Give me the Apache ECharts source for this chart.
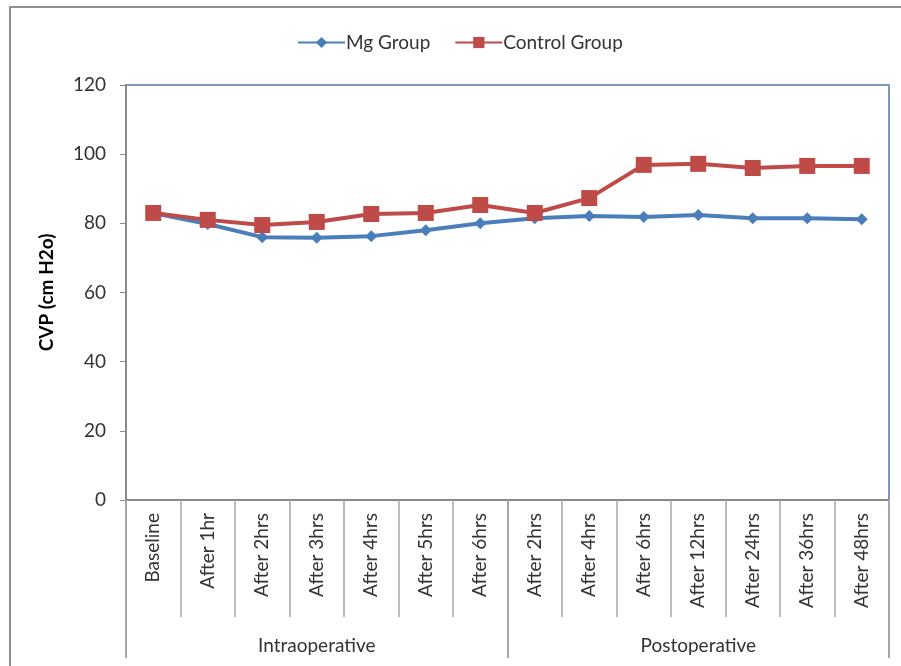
<!DOCTYPE html>
<html>
<head>
<meta charset="utf-8">
<title>CVP</title>
<script src="https://cdn.jsdelivr.net/npm/echarts@6/dist/echarts.min.js"></script>
<style>
    html, body { margin: 0; padding: 0; background: #fff; }
    #chart { width: 901px; height: 666px; }
</style>
</head>
<body>
<div id="chart"></div>
<script>
// time points (x axis, first level)
var categories = ['Baseline', 'After 1hr', 'After 2hrs', 'After 3hrs', 'After 4hrs', 'After 5hrs', 'After 6hrs',
    'After 2hrs', 'After 4hrs', 'After 6hrs', 'After 12hrs', 'After 24hrs', 'After 36hrs', 'After 48hrs'];
// second level of the x axis
var phases = ['Intraoperative', 'Postoperative'];

var mgGroup = [83, 79.8, 76, 75.8, 76.3, 78, 80, 81.5, 82.1, 81.8, 82.4, 81.5, 81.5, 81.2];
var controlGroup = [83, 81, 79.5, 80.4, 82.7, 83, 85.3, 83, 87.3, 96.9, 97.2, 96, 96.6, 96.6];

var yTicks = { min: 0, max: 120, interval: 20 };

var FONT = 'Lato, "Open Sans", sans-serif';

var myChart = echarts.init(document.getElementById('chart'));

var option = {
    backgroundColor: '#fff',
    animation: false,
    graphic: [{
        type: 'rect',
        shape: { x: 10, y: 7, width: 1000, height: 1000 },
        style: { fill: 'none', stroke: '#8f8f8f', lineWidth: 2 },
        silent: true
    }],
    legend: {
        top: 28,
        left: 292,
        itemWidth: 47,
        itemHeight: 14,
        itemGap: 24,
        textStyle: { fontFamily: FONT, fontSize: 19, color: '#333', padding: [0, 0, 0, -4] },
        data: ['Mg Group', 'Control Group']
    },
    grid: {
        left: 126,
        right: 12,
        top: 85,
        bottom: 166,
        show: true,
        borderColor: '#7f97ba',
        borderWidth: 2
    },
    xAxis: [{
        type: 'category',
        data: categories,
        boundaryGap: true,
        axisLine: { lineStyle: { color: '#8a8a8a', width: 2 } },
        axisTick: { show: true, interval: 0, length: 117, lineStyle: { color: '#a6a6a6', width: 1.5 } },
        axisLabel: {
            interval: 0, rotate: 90, margin: 13,
            fontFamily: FONT, fontSize: 19, color: '#333'
        }
    }, {
        type: 'category',
        data: phases,
        position: 'bottom',
        axisLine: { show: false },
        axisTick: { show: true, interval: 0, length: 158, lineStyle: { color: '#a6a6a6', width: 2 } },
        axisLabel: {
            interval: 0, margin: 136,
            fontFamily: FONT, fontSize: 19, color: '#333'
        }
    }],
    yAxis: {
        type: 'value',
        min: yTicks.min,
        max: yTicks.max,
        interval: yTicks.interval,
        name: 'CVP (cm H2o)',
        nameLocation: 'middle',
        nameGap: 70,
        nameTextStyle: { fontFamily: FONT, fontSize: 19, fontWeight: 'bold', color: '#000' },
        splitLine: { show: false },
        axisLine: { show: true, lineStyle: { color: '#8a8a8a', width: 2 } },
        axisTick: { show: true, length: 6, lineStyle: { color: '#8a8a8a' } },
        axisLabel: { margin: 20, fontFamily: FONT, fontSize: 19, color: '#333' }
    },
    series: [{
        name: 'Mg Group',
        type: 'line',
        data: mgGroup,
        symbol: 'diamond',
        symbolSize: 12,
        itemStyle: { color: '#4a7ebb' },
        lineStyle: { color: '#4a7ebb', width: 4 }
    }, {
        name: 'Control Group',
        type: 'line',
        data: controlGroup,
        symbol: 'rect',
        symbolSize: 16,
        itemStyle: { color: '#be4b48' },
        lineStyle: { color: '#be4b48', width: 4 }
    }]
};

myChart.setOption(option);
</script>
</body>
</html>
